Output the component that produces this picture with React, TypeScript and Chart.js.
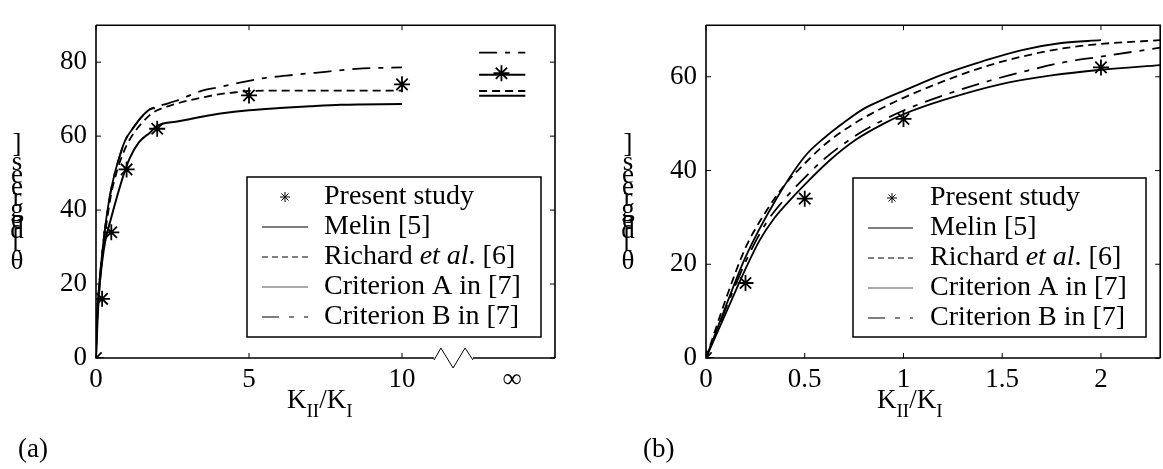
import React, { useEffect, useRef } from 'react';
import { Chart, registerables } from 'chart.js';

Chart.register(...registerables);

const FONT = "'Liberation Serif', 'Times New Roman', serif";

// ---------- Panel (a) data ----------
const aPresentX = [0, 0.2, 0.5, 1, 2, 5, 10, 13.25];
const aPresentY = [0, 16, 34, 51, 62, 71, 74, 77];

const aMelinX = [0, 0.02, 0.08, 0.15, 0.25, 0.35, 0.48, 0.62, 0.77, 0.95, 1.22, 1.5, 1.77, 1.93];
const aMelinY = [0, 8, 17, 24, 32, 38.5, 45, 50.2, 54.5, 58.8, 62.3, 65.3, 67.3, 67.6];

const aRichardX = [0, 0.03, 0.1, 0.18, 0.28, 0.38, 0.5, 0.65, 0.8, 1.0, 1.25, 1.55, 1.8, 2.0, 2.6, 3.0, 3.5, 4.0, 4.5, 5.0, 6.0, 7.0, 8.0, 9.0, 10.0];
const aRichardY = [0, 8, 17.5, 25, 32.5, 38.5, 44.5, 49.5, 53.5, 57.5, 61, 64, 66, 67, 68.7, 69.6, 70.5, 71.3, 71.8, 72.2, 72.3, 72.3, 72.3, 72.3, 72.3];

const aCritAX = [0, 0.05, 0.1, 0.2, 0.3, 0.5, 0.7, 0.9, 1.1, 1.4, 1.77, 2.0, 2.7, 3.5, 4.07, 5, 6, 7, 8, 10];
const aCritAY = [0, 10, 18, 26, 31.5, 38, 44, 49.5, 54, 58.3, 61, 62.8, 64, 65.3, 66.1, 67, 67.6, 68.1, 68.5, 68.7];

const aCritBX = [0, 0.02, 0.08, 0.15, 0.25, 0.35, 0.48, 0.62, 0.77, 0.95, 1.22, 1.5, 1.77, 2.0, 2.2, 2.6, 3.0, 3.5, 4.0, 4.7, 5.5, 6.5, 7.5, 8.5, 10];
const aCritBY = [0, 8, 17, 24, 32, 38.5, 45, 50.2, 54.5, 58.8, 62.3, 65.3, 67.3, 68, 68.5, 69.5, 70.8, 72.4, 73.2, 74.5, 75.7, 76.6, 77.4, 78.2, 78.6];

// values at K_II/K_I = infinity (drawn as short segments)
const aInfX = [12.52, 14.03];
const aInfMelin = 76.6;
const aInfRichard = 72.2;
const aInfCritA = 70.9;
const aInfCritB = 82.6;

const aXTickVals = [0, 5, 10, 13.6];
const aXTickLabels = ['0', '5', '10', '\u221E'];
const aYTickVals = [0, 20, 40, 60, 80];
const aYTickLabels = ['0', '20', '40', '60', '80'];
const aBreakX = [11.05, 11.27, 11.67, 12.06, 12.32];

// ---------- Panel (b) data ----------
const bPresentX = [0, 0.2, 0.5, 1, 2];
const bPresentY = [0, 16, 34, 51, 62];

const bMelinX = [0, 0.1, 0.2, 0.35, 0.5, 0.6, 0.7, 0.8, 0.9, 1.0, 1.2, 1.4, 1.6, 1.8, 2.0];
const bMelinY = [0, 11, 21.5, 33.5, 43, 47, 50.3, 53.2, 55.2, 57, 60.5, 63.3, 65.7, 67.2, 67.8];

const bRichardX = [0, 0.1, 0.2, 0.3, 0.4, 0.5, 0.6, 0.75, 0.9, 1.0, 1.2, 1.4, 1.6, 1.8, 2.0, 2.3];
const bRichardY = [0, 12.5, 23.5, 31, 37, 41.5, 45.5, 50, 53.5, 55.5, 59, 62, 64.3, 66, 67, 67.8];

const bCritAX = [0, 0.1, 0.2, 0.27, 0.34, 0.4, 0.5, 0.63, 0.76, 0.9, 1.0, 1.2, 1.5, 1.75, 2.0, 2.3];
const bCritAY = [0, 9.5, 19, 25, 29.5, 32.5, 37, 42.3, 46.6, 50, 52, 55, 58.5, 60.3, 61.5, 62.5];

const bCritBX = [0, 0.1, 0.2, 0.3, 0.4, 0.5, 0.6, 0.76, 0.84, 1.0, 1.2, 1.44, 1.6, 1.8, 2.0, 2.3];
const bCritBY = [0, 10.5, 20.5, 28.5, 34, 38.5, 42.5, 47.5, 49.5, 52.8, 56, 59.2, 61, 63, 64.3, 66.2];

const bXTickVals = [0, 0.5, 1, 1.5, 2];
const bXTickLabels = ['0', '0.5', '1', '1.5', '2'];
const bYTickVals = [0, 20, 40, 60];
const bYTickLabels = ['0', '20', '40', '60'];

const legendLabels = ['Present study', 'Melin [5]', 'Richard et al. [6]', 'Criterion A in [7]', 'Criterion B in [7]'];

const DASH_RICHARD = [8, 5];
const DASH_B = [18, 8, 5, 8];

function pts(xs: number[], ys: number[]) {
  return xs.map((x, i) => ({ x, y: ys[i] }));
}

function lineDs(label: string, data: any[], dash: number[], width: number) {
  return {
    label,
    data,
    borderColor: '#000',
    backgroundColor: '#000',
    borderWidth: width,
    borderDash: dash,
    pointRadius: 0,
    fill: false,
    tension: 0,
    cubicInterpolationMode: 'monotone' as const,
    spanGaps: false,
  };
}

function starDs(xs: number[], ys: number[]) {
  return {
    label: legendLabels[0],
    data: pts(xs, ys),
    showLine: false,
    pointStyle: 'star' as const,
    pointRadius: 8,
    borderWidth: 1.8,
    borderColor: '#000',
    backgroundColor: '#000',
  };
}

function drawStar(ctx: CanvasRenderingContext2D, x: number, y: number, r: number) {
  ctx.beginPath();
  for (let k = 0; k < 4; k++) {
    const a = (k * Math.PI) / 4;
    ctx.moveTo(x - r * Math.cos(a), y - r * Math.sin(a));
    ctx.lineTo(x + r * Math.cos(a), y + r * Math.sin(a));
  }
  ctx.stroke();
}

function decorPlugin(cfg: any) {
  return {
    id: 'decor',
    afterDraw(chart: any) {
      const ctx: CanvasRenderingContext2D = chart.ctx;
      const { left, right, top, bottom } = chart.chartArea;
      const xs = chart.scales.x;
      const ys = chart.scales.y;
      ctx.save();
      ctx.strokeStyle = '#000';
      ctx.fillStyle = '#000';
      ctx.setLineDash([]);
      // box
      ctx.lineWidth = 1.6;
      ctx.beginPath();
      ctx.moveTo(left, top);
      ctx.lineTo(right, top);
      ctx.lineTo(right, bottom);
      ctx.moveTo(left, top);
      ctx.lineTo(left, bottom);
      if (cfg.breakX) {
        const bx = cfg.breakX.map((v: number) => xs.getPixelForValue(v));
        ctx.lineTo(bx[0], bottom);
        ctx.moveTo(bx[bx.length - 1], bottom);
        ctx.lineTo(right, bottom);
        ctx.stroke();
        const dy = [2, -10, 10, -10, 2];
        ctx.lineWidth = 1;
        ctx.beginPath();
        bx.forEach((p: number, i: number) => {
          if (i === 0) ctx.moveTo(p, bottom + dy[i]);
          else ctx.lineTo(p, bottom + dy[i]);
        });
        ctx.stroke();
      } else {
        ctx.lineTo(right, bottom);
        ctx.stroke();
      }
      // inner ticks
      ctx.lineWidth = 1;
      ctx.beginPath();
      cfg.yTicks.forEach((v: number) => {
        const p = ys.getPixelForValue(v);
        ctx.moveTo(left, p);
        ctx.lineTo(left + 5, p);
        ctx.moveTo(right, p);
        ctx.lineTo(right - 5, p);
      });
      cfg.xTicks.forEach((v: number) => {
        const p = xs.getPixelForValue(v);
        ctx.moveTo(p, bottom);
        ctx.lineTo(p, bottom - 5);
        ctx.moveTo(p, top);
        ctx.lineTo(p, top + 5);
      });
      ctx.stroke();

      // legend
      const L = cfg.legend;
      ctx.fillStyle = '#fff';
      ctx.fillRect(L.x0, L.y0, L.x1 - L.x0, L.y1 - L.y0);
      ctx.fillStyle = '#000';
      ctx.lineWidth = 1.5;
      ctx.strokeRect(L.x0, L.y0, L.x1 - L.x0, L.y1 - L.y0);
      const rowY = [L.y0 + 20, L.y0 + 50, L.y0 + 80, L.y0 + 110, L.y0 + 140];
      ctx.lineWidth = 1;
      drawStar(ctx, L.starX, rowY[0], 5);
      const styles = [
        { dash: [], color: '#000', w: 1.2 },
        { dash: [6, 4], color: '#000', w: 1 },
        { dash: [], color: '#555', w: 1.2 },
        { dash: [17, 10, 5, 10], color: '#000', w: 1.2 },
      ];
      styles.forEach((s, i) => {
        ctx.save();
        ctx.strokeStyle = s.color;
        ctx.lineWidth = s.w;
        ctx.setLineDash(s.dash);
        ctx.beginPath();
        ctx.moveTo(L.lineX0, rowY[i + 1]);
        ctx.lineTo(L.lineX1, rowY[i + 1]);
        ctx.stroke();
        ctx.restore();
      });
      ctx.textBaseline = 'middle';
      ctx.textAlign = 'left';
      const normal = `28px ${FONT}`;
      const italic = `italic 28px ${FONT}`;
      legendLabels.forEach((t, i) => {
        if (i === 2) {
          let x = L.textX;
          ctx.font = normal;
          ctx.fillText('Richard ', x, rowY[i]);
          x += ctx.measureText('Richard ').width;
          ctx.font = italic;
          ctx.fillText('et al', x, rowY[i]);
          x += ctx.measureText('et al').width;
          ctx.font = normal;
          ctx.fillText('. [6]', x, rowY[i]);
        } else {
          ctx.font = normal;
          ctx.fillText(t, L.textX, rowY[i]);
        }
      });

      // x-axis title K_II/K_I
      ctx.textBaseline = 'alphabetic';
      let tx = cfg.title.x;
      const ty = cfg.title.y;
      const big = `27px ${FONT}`;
      const small = `19px ${FONT}`;
      ctx.font = big; ctx.fillText('K', tx, ty); tx += ctx.measureText('K').width;
      ctx.font = small; ctx.fillText('II', tx, ty + 9); tx += ctx.measureText('II').width;
      ctx.font = big; ctx.fillText('/', tx, ty); tx += ctx.measureText('/').width;
      ctx.fillText('K', tx, ty); tx += ctx.measureText('K').width;
      ctx.font = small; ctx.fillText('I', tx, ty + 9);

      // stacked y-axis label
      ctx.font = big;
      ctx.textAlign = 'center';
      ctx.textBaseline = 'middle';
      const chars = [']', 's', 'e', 'e', 'r', 'g', 'e', 'd', '['];
      const cy = [145, 163, 176, 188, 199, 210, 221, 231, 240];
      chars.forEach((c, i) => ctx.fillText(c, cfg.ylab.x, cy[i]));
      ctx.fillText('\u03B8', cfg.ylab.x, 262);

      // panel label
      ctx.textAlign = 'left';
      ctx.textBaseline = 'alphabetic';
      ctx.font = big;
      ctx.fillText(cfg.panel.text, cfg.panel.x, cfg.panel.y);
      ctx.restore();
    },
  };
}

function axisTicks(vals: number[], labels: string[]) {
  return {
    afterBuildTicks: (s: any) => {
      s.ticks = vals.map((v) => ({ value: v }));
    },
    callback: (v: number) => {
      const i = vals.indexOf(v);
      return i >= 0 ? labels[i] : '';
    },
  };
}

function makeConfig(opts: any): any {
  const xt = axisTicks(opts.xTickVals, opts.xTickLabels);
  const yt = axisTicks(opts.yTickVals, opts.yTickLabels);
  return {
    type: 'line',
    data: { datasets: opts.datasets },
    options: {
      animation: false,
      responsive: false,
      maintainAspectRatio: false,
      layout: { padding: opts.padding },
      plugins: { legend: { display: false }, tooltip: { enabled: false } },
      scales: {
        x: {
          type: 'linear',
          min: opts.xMin,
          max: opts.xMax,
          afterBuildTicks: xt.afterBuildTicks,
          afterFit: (s: any) => { s.height = 60; },
          grid: { display: false, drawTicks: false },
          border: { display: false },
          ticks: { callback: xt.callback, font: { family: FONT, size: 27 }, color: '#000', padding: 6, maxRotation: 0, autoSkip: false },
        },
        y: {
          type: 'linear',
          min: opts.yMin,
          max: opts.yMax,
          afterBuildTicks: yt.afterBuildTicks,
          afterFit: (s: any) => { s.width = opts.yWidth; },
          grid: { display: false, drawTicks: false },
          border: { display: false },
          ticks: { callback: yt.callback, font: { family: FONT, size: 27 }, color: '#000', padding: 9, autoSkip: false },
        },
      },
    },
    plugins: [decorPlugin(opts.decor)],
  };
}

function withInf(xs: number[], ys: number[], inf: number) {
  return [...pts(xs, ys), { x: 11, y: null }, ...aInfX.map((x) => ({ x, y: inf }))];
}

export default function App() {
  const refA = useRef<HTMLCanvasElement>(null);
  const refB = useRef<HTMLCanvasElement>(null);

  useEffect(() => {
    const cfgA = makeConfig({
      datasets: [
        starDs(aPresentX, aPresentY),
        lineDs(legendLabels[1], withInf(aMelinX, aMelinY, aInfMelin), [], 1.8),
        lineDs(legendLabels[2], withInf(aRichardX, aRichardY, aInfRichard), DASH_RICHARD, 1.8),
        lineDs(legendLabels[3], withInf(aCritAX, aCritAY, aInfCritA), [], 2),
        lineDs(legendLabels[4], withInf(aCritBX, aCritBY, aInfCritB), DASH_B, 1.8),
      ],
      padding: { left: 0, top: 10, right: 25, bottom: 51 },
      xMin: 0, xMax: 15, yMin: 0, yMax: 90,
      yWidth: 96,
      xTickVals: aXTickVals, xTickLabels: aXTickLabels,
      yTickVals: aYTickVals, yTickLabels: aYTickLabels,
      decor: {
        breakX: aBreakX,
        yTicks: aYTickVals,
        xTicks: [0, 5, 10],
        legend: { x0: 247, y0: 177, x1: 541, y1: 337, lineX0: 262, lineX1: 308, starX: 285, textX: 324 },
        title: { x: 287, y: 408 },
        ylab: { x: 17 },
        panel: { text: '(a)', x: 18, y: 457 },
      },
    });
    const cfgB = makeConfig({
      datasets: [
        starDs(bPresentX, bPresentY),
        lineDs(legendLabels[1], pts(bMelinX, bMelinY), [], 1.8),
        lineDs(legendLabels[2], pts(bRichardX, bRichardY), DASH_RICHARD, 1.8),
        lineDs(legendLabels[3], pts(bCritAX, bCritAY), [], 1.8),
        lineDs(legendLabels[4], pts(bCritBX, bCritBY), DASH_B, 1.8),
      ],
      padding: { left: 0, top: 11, right: 6, bottom: 51 },
      xMin: 0, xMax: 2.3, yMin: 0, yMax: 71,
      yWidth: 126,
      xTickVals: bXTickVals, xTickLabels: bXTickLabels,
      yTickVals: bYTickVals, yTickLabels: bYTickLabels,
      decor: {
        breakX: null,
        yTicks: bYTickVals,
        xTicks: bXTickVals,
        legend: { x0: 273, y0: 178, x1: 566, y1: 337, lineX0: 288, lineX1: 333, starX: 312, textX: 350 },
        title: { x: 297, y: 408 },
        ylab: { x: 48 },
        panel: { text: '(b)', x: 63, y: 457 },
      },
    });
    const a = new Chart(refA.current as HTMLCanvasElement, cfgA);
    const b = new Chart(refB.current as HTMLCanvasElement, cfgB);
    return () => {
      a.destroy();
      b.destroy();
    };
  }, []);

  return (
    <div style={{ position: 'absolute', left: 0, top: 0, width: 1163, height: 469, overflow: 'hidden', background: '#fff' }}>
      <canvas ref={refA} width={580} height={469} style={{ position: 'absolute', left: 0, top: 0, width: 580, height: 469 }} />
      <canvas ref={refB} width={590} height={469} style={{ position: 'absolute', left: 580, top: 0, width: 590, height: 469 }} />
    </div>
  );
}
